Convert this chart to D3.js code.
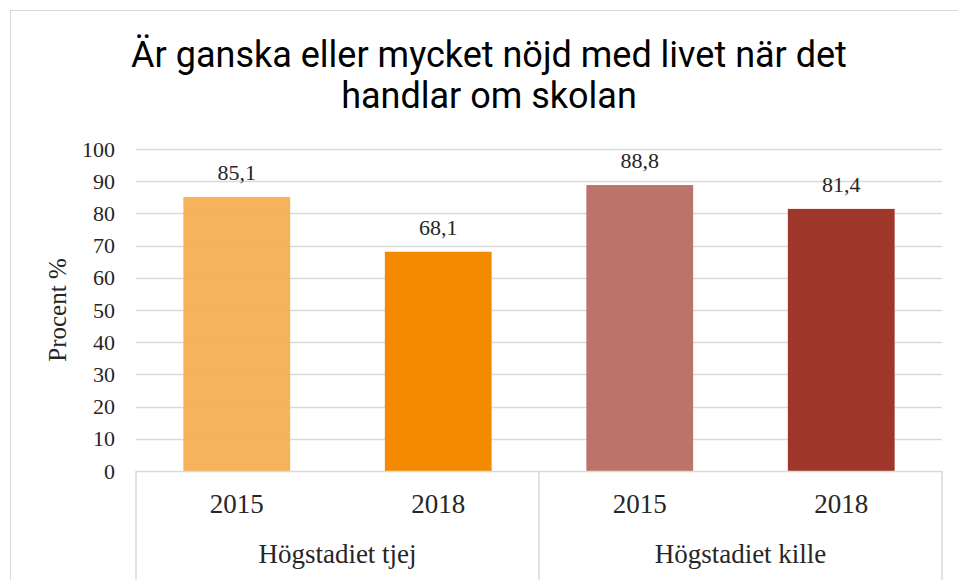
<!DOCTYPE html>
<meta charset="utf-8">
<style>
    body { margin: 0; background: #fff; }
    .axis .domain { display: none; }
</style>
<svg width="958" height="580"></svg>
<script src="https://d3js.org/d3.v7.min.js"></script>
<script>
    var groups = ["Högstadiet tjej", "Högstadiet kille"];
    var years = ["2015", "2018"];
    var values = [85.1, 68.1, 88.8, 81.4];
    var colors = ["#F5AD4F", "#F38A00", "#BB736A", "#9E372A"];
    var yTicks = [0, 10, 20, 30, 40, 50, 60, 70, 80, 90, 100];
    var titleLines = ["Är ganska eller mycket nöjd med livet när det", "handlar om skolan"];

    var svg = d3.select("svg"),
        margin = { top: 149, right: 16, bottom: 109, left: 136 },
        width = 958 - margin.left - margin.right,
        height = 580 - margin.top - margin.bottom,
        g = svg.append("g").attr("transform", "translate(" + margin.left + "," + margin.top + ")");

    var serif = "'Liberation Serif', 'DejaVu Serif', serif";

    // outer chart border
    svg.append("rect")
        .attr("x", 10.5).attr("y", 10.5)
        .attr("width", 958).attr("height", 600)
        .attr("fill", "none")
        .attr("stroke", "#d9d9d9");

    svg.append("g")
        .selectAll("text")
        .data(titleLines)
        .enter().append("text")
        .attr("x", 489)
        .attr("y", function (d, i) { return 67 + i * 41; })
        .attr("text-anchor", "middle")
        .attr("font-family", "Roboto, sans-serif")
        .attr("font-size", 36)
        .attr("fill", "#000")
        .text(function (d) { return d; });

    var bars = [];
    groups.forEach(function (gr, gi) {
        years.forEach(function (yr, yi) {
            bars.push({ key: gr + "|" + yr, group: gr, year: yr, value: values[gi * years.length + yi] });
        });
    });

    var x = d3.scaleBand()
        .domain(bars.map(function (d) { return d.key; }))
        .range([0, width])
        .paddingInner(0.47)
        .paddingOuter(0.235);

    var xg = d3.scaleBand()
        .domain(groups)
        .range([0, width]);

    var y = d3.scaleLinear()
        .domain([0, 100])
        .range([height, 0]);

    // gridlines
    g.append("g")
        .selectAll("line")
        .data(yTicks.slice(1))
        .enter().append("line")
        .attr("x1", 0).attr("x2", width)
        .attr("y1", function (d) { return Math.round(y(d)) + 0.5; })
        .attr("y2", function (d) { return Math.round(y(d)) + 0.5; })
        .attr("stroke", "#d9d9d9")
        .attr("stroke-width", 1.5);

    g.append("g")
        .selectAll("rect")
        .data(bars)
        .enter().append("rect")
        .attr("x", function (d) { return x(d.key); })
        .attr("y", function (d) { return y(d.value); })
        .attr("width", x.bandwidth())
        .attr("height", function (d) { return height - y(d.value); })
        .attr("fill", function (d, i) { return colors[i]; })
        .attr("fill-opacity", function (d, i) { return i == 0 ? 0.93 : 1; });

    // value labels
    g.append("g")
        .selectAll("text")
        .data(bars)
        .enter().append("text")
        .attr("x", function (d) { return x(d.key) + x.bandwidth() / 2; })
        .attr("y", function (d) { return y(d.value) - 17; })
        .attr("text-anchor", "middle")
        .attr("font-family", serif)
        .attr("font-size", 22)
        .attr("fill", "#262626")
        .text(function (d) { return String(d.value).replace(".", ","); });

    // y axis
    g.append("g")
        .attr("class", "axis")
        .attr("transform", "translate(-21,0)")
        .call(d3.axisLeft(y).tickValues(yTicks).tickSize(0).tickPadding(0))
        .selectAll("text")
        .attr("font-family", serif)
        .attr("font-size", 22)
        .attr("fill", "#262626");

    svg.append("text")
        .attr("transform", "translate(66," + (margin.top + height / 2) + ") rotate(-90)")
        .attr("text-anchor", "middle")
        .attr("font-family", serif)
        .attr("font-size", 25)
        .attr("fill", "#262626")
        .text("Procent %");

    // x axis: baseline and group separators
    var base = g.append("g").attr("transform", "translate(0," + height + ")");
    base.append("line")
        .attr("x1", 0).attr("x2", width)
        .attr("y1", 0.5).attr("y2", 0.5)
        .attr("stroke", "#d9d9d9").attr("stroke-width", 1.5);
    base.selectAll(".sep")
        .data([0, xg(groups[1]), width])
        .enter().append("line")
        .attr("class", "sep")
        .attr("x1", function (d) { return d; })
        .attr("x2", function (d) { return d; })
        .attr("y1", 0).attr("y2", 120)
        .attr("stroke", "#d9d9d9").attr("stroke-width", 1.5);

    base.selectAll(".year")
        .data(bars)
        .enter().append("text")
        .attr("class", "year")
        .attr("x", function (d) { return x(d.key) + x.bandwidth() / 2; })
        .attr("y", 42)
        .attr("text-anchor", "middle")
        .attr("font-family", serif)
        .attr("font-size", 27)
        .attr("fill", "#262626")
        .text(function (d) { return d.year; });

    base.selectAll(".grp")
        .data(groups)
        .enter().append("text")
        .attr("class", "grp")
        .attr("x", function (d) { return xg(d) + xg.bandwidth() / 2; })
        .attr("y", 92)
        .attr("text-anchor", "middle")
        .attr("font-family", serif)
        .attr("font-size", 27)
        .attr("fill", "#262626")
        .text(function (d) { return d; });
</script>
